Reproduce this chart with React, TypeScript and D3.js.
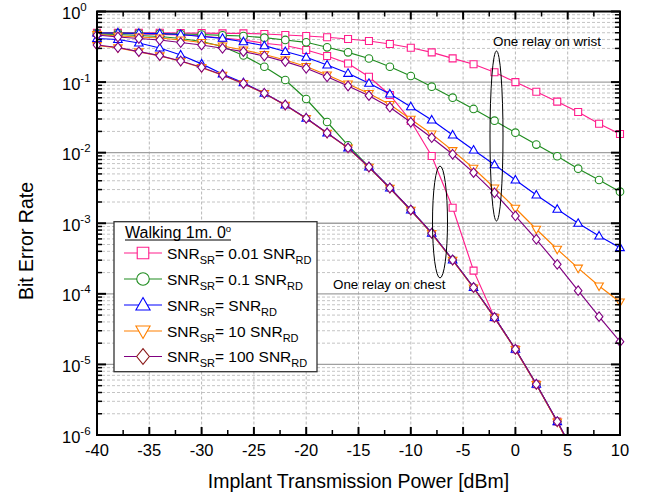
import React from 'react';
import * as d3 from 'd3';

const power = [-40, -38, -36, -34, -32, -30, -28, -26, -24, -22, -20, -18, -16, -14, -12, -10, -8, -6, -4, -2, 0, 2, 4, 6, 8, 10];
const powerChest = [-40, -38, -36, -34, -32, -30, -28, -26, -24, -22, -20, -18, -16, -14, -12, -10, -8, -6, -4, -2, 0, 2, 4, 6];

// relay on wrist
const wrist001 = [0.50, 0.50, 0.50, 0.50, 0.495, 0.495, 0.49, 0.49, 0.48, 0.465, 0.45, 0.431, 0.408, 0.382, 0.346, 0.307, 0.264, 0.217, 0.179, 0.138, 0.100, 0.0731, 0.0528, 0.0377, 0.0257, 0.0184];
const wrist01 = [0.496, 0.496, 0.491, 0.486, 0.480, 0.472, 0.460, 0.450, 0.426, 0.395, 0.366, 0.311, 0.264, 0.216, 0.165, 0.122, 0.0861, 0.0601, 0.0416, 0.0284, 0.0192, 0.0130, 0.00889, 0.00593, 0.00410, 0.00280];
const wrist1 = [0.496, 0.496, 0.491, 0.485, 0.472, 0.442, 0.417, 0.373, 0.328, 0.271, 0.225, 0.175, 0.133, 0.0962, 0.0678, 0.0448, 0.0291, 0.0178, 0.0109, 0.00676, 0.00410, 0.00252, 0.00158, 0.00100, 0.000661, 0.000451];
const wrist10 = [0.472, 0.450, 0.435, 0.421, 0.395, 0.364, 0.325, 0.285, 0.246, 0.206, 0.166, 0.126, 0.0940, 0.0690, 0.0482, 0.0297, 0.0184, 0.0107, 0.00601, 0.00316, 0.00163, 0.000822, 0.000428, 0.000231, 0.000129, 0.0000767];
const wrist100 = [0.465, 0.435, 0.415, 0.395, 0.364, 0.335, 0.301, 0.270, 0.234, 0.195, 0.157, 0.119, 0.0881, 0.0642, 0.0441, 0.0270, 0.0163, 0.00949, 0.00521, 0.00270, 0.00127, 0.000593, 0.000262, 0.000111, 0.0000475, 0.0000210];

// relay on chest
const chest001 = [0.496, 0.491, 0.483, 0.475, 0.465, 0.450, 0.421, 0.395, 0.355, 0.330, 0.285, 0.234, 0.183, 0.119, 0.0657, 0.0281, 0.00898, 0.00166, 0.000213, 0.0000463, 0.0000164, 0.00000524, 0.00000155, 0.00000043];
const chest01 = [0.480, 0.472, 0.457, 0.442, 0.415, 0.376, 0.319, 0.238, 0.165, 0.107, 0.0576, 0.0272, 0.0127, 0.00627, 0.00316, 0.00154, 0.000722, 0.000302, 0.000123, 0.0000463, 0.0000164, 0.00000524, 0.00000155, 0.00000043];
const chest1 = [0.415, 0.401, 0.358, 0.304, 0.242, 0.181, 0.130, 0.098, 0.0694, 0.0474, 0.0307, 0.0190, 0.0117, 0.00627, 0.00316, 0.00154, 0.000722, 0.000302, 0.000123, 0.0000463, 0.0000164, 0.00000524, 0.00000155, 0.00000043];
const chest10 = [0.330, 0.305, 0.268, 0.235, 0.197, 0.160, 0.125, 0.0950, 0.0690, 0.0470, 0.0305, 0.0188, 0.0116, 0.00620, 0.00312, 0.00152, 0.000712, 0.000298, 0.000121, 0.0000458, 0.0000162, 0.00000518, 0.00000152, 0.00000042];
const chest100 = [0.335, 0.309, 0.270, 0.237, 0.199, 0.162, 0.126, 0.0955, 0.0694, 0.0474, 0.0307, 0.0190, 0.0117, 0.00627, 0.00316, 0.00154, 0.000722, 0.000302, 0.000123, 0.0000463, 0.0000164, 0.00000524, 0.00000155, 0.00000043];

const legendLabels = ['= 0.01 SNR', '= 0.1 SNR', '= SNR', '= 10 SNR', '= 100 SNR'];
const xTicks = [-40, -35, -30, -25, -20, -15, -10, -5, 0, 5, 10];
const yExponents = [0, -1, -2, -3, -4, -5, -6];

const colors = ['#ff1e8c', '#1f8c1f', '#0000ff', '#ff8000', '#800080'];
const markerColors = ['#ff1e8c', '#1f8c1f', '#0000ff', '#ff8000', '#800080'];
const legendMarkerColors = ['#ff1e8c', '#1f8c1f', '#0000ff', '#ff8000', '#8b1a1a'];
const markerTypes = ['square', 'circle', 'triUp', 'triDown', 'diamond'];

const FONT = 'Arial, "Liberation Sans", sans-serif';

function Marker({ type, cx, cy, color, k = 1 }: { type: string; cx: number; cy: number; color: string; k?: number }) {
  const sw = 1.1;
  if (type === 'circle') return <circle cx={cx} cy={cy} r={3.8 * k} fill="#fff" stroke={color} strokeWidth={sw} />;
  let d = '';
  if (type === 'square') {
    const s = 3.5 * k;
    d = `M${cx - s},${cy - s}h${2 * s}v${2 * s}h${-2 * s}Z`;
  } else if (type === 'triUp') {
    const s = 4.3 * k;
    d = `M${cx},${cy - s * 1.05}L${cx + s},${cy + s * 0.7}L${cx - s},${cy + s * 0.7}Z`;
  } else if (type === 'triDown') {
    const s = 4.3 * k;
    d = `M${cx},${cy + s * 1.05}L${cx + s},${cy - s * 0.7}L${cx - s},${cy - s * 0.7}Z`;
  } else if (type === 'diamond') {
    const s = 4.8 * k;
    d = `M${cx},${cy - s}L${cx + s * 0.8},${cy}L${cx},${cy + s}L${cx - s * 0.8},${cy}Z`;
  }
  return <path d={d} fill="#fff" stroke={color} strokeWidth={sw} />;
}

export default function App() {
  const L = 97, R = 620, T = 11.5, B = 435;
  const x = d3.scaleLinear().domain([-40, 10]).range([L, R]);
  const y = d3.scaleLog().domain([1e-6, 1]).range([B, T]);

  const wrist = [wrist001, wrist01, wrist1, wrist10, wrist100];
  const chest = [chest001, chest01, chest1, chest10, chest100];

  const line = d3.line<[number, number]>().x(d => x(d[0])).y(d => y(d[1]));

  const minorY: number[] = [];
  for (let e = -6; e < 0; e++) for (let k = 2; k <= 9; k++) minorY.push(k * Math.pow(10, e));
  const majorY = yExponents.map(e => Math.pow(10, e));
  const xMinor = d3.range(-37.5, 10, 5);
  const xGrid = xTicks.slice(1, -1);

  const series: { xs: number[]; ys: number[]; i: number }[] = [];
  for (let i = 0; i < 5; i++) {
    series.push({ xs: power, ys: wrist[i], i });
    series.push({ xs: powerChest, ys: chest[i], i });
  }

  const legendRows = [253, 279, 305, 331, 356.5];

  return (
    <svg width={649} height={494} style={{ position: 'absolute', left: 0, top: 0, background: '#fff' }} fontFamily={FONT}>
      <defs>
        <clipPath id="plotClip">
          <rect x={L - 12} y={T - 12} width={R - L + 24} height={B - T + 12} />
        </clipPath>
      </defs>
      <rect x={0} y={0} width={649} height={494} fill="#fff" />
      {/* minor grid */}
      {minorY.map((v, i) => (
        <line key={'mg' + i} x1={L} x2={R} y1={y(v)} y2={y(v)} stroke="#c4c4c4" strokeWidth={1} strokeDasharray="3,2" />
      ))}
      {xGrid.map(v => (
        <line key={'vg' + v} x1={x(v)} x2={x(v)} y1={T} y2={B} stroke="#b8b8b8" strokeWidth={1} strokeDasharray="3,2" />
      ))}
      {majorY.slice(1, -1).map((v, i) => (
        <line key={'Mg' + i} x1={L} x2={R} y1={y(v)} y2={y(v)} stroke="#a0a0a0" strokeWidth={1.3} />
      ))}

      {/* series */}
      <g clipPath="url(#plotClip)">
        {series.map((s, j) => (
          <g key={'s' + j}>
            <path d={line(s.xs.map((v, k) => [v, s.ys[k]] as [number, number])) || ''} fill="none" stroke={colors[s.i]} strokeWidth={1.15} />
            {s.xs.map((v, k) =>
              s.ys[k] >= 1e-6 ? (
                <Marker key={k} type={markerTypes[s.i]} cx={x(v)} cy={y(s.ys[k])} color={markerColors[s.i]} />
              ) : null
            )}
          </g>
        ))}
      </g>

      {/* ellipses and annotations */}
      <ellipse cx={496.5} cy={136} rx={6.5} ry={85} fill="none" stroke="#000" strokeWidth={1} />
      <ellipse cx={440} cy={222} rx={7.5} ry={56} fill="none" stroke="#000" strokeWidth={1} />
      <text x={493} y={46} fontSize={13.4} fill="#000">One relay on wrist</text>
      <text x={333} y={289} fontSize={13.4} fill="#000">One relay on chest</text>

      {/* axes frame */}
      <rect x={L} y={T} width={R - L} height={B - T} fill="none" stroke="#000" strokeWidth={2} />

      {/* y ticks */}
      {minorY.map((v, i) => (
        <g key={'mt' + i}>
          <line x1={L} x2={L + 5} y1={y(v)} y2={y(v)} stroke="#000" strokeWidth={1.5} />
          <line x1={R} x2={R - 5} y1={y(v)} y2={y(v)} stroke="#000" strokeWidth={1.5} />
        </g>
      ))}
      {majorY.map((v, i) => (
        <g key={'Mt' + i}>
          <line x1={L} x2={L + 9} y1={y(v)} y2={y(v)} stroke="#000" strokeWidth={2} />
          <line x1={R} x2={R - 9} y1={y(v)} y2={y(v)} stroke="#000" strokeWidth={2} />
        </g>
      ))}
      {/* x ticks */}
      {xTicks.map(v => (
        <g key={'xt' + v}>
          <line x1={x(v)} x2={x(v)} y1={B} y2={B - 8} stroke="#000" strokeWidth={2} />
          <line x1={x(v)} x2={x(v)} y1={T} y2={T + 8} stroke="#000" strokeWidth={2} />
        </g>
      ))}
      {xMinor.map(v => (
        <g key={'xm' + v}>
          <line x1={x(v)} x2={x(v)} y1={B} y2={B - 5} stroke="#000" strokeWidth={1.5} />
          <line x1={x(v)} x2={x(v)} y1={T} y2={T + 5} stroke="#000" strokeWidth={1.5} />
        </g>
      ))}

      {/* tick labels */}
      {xTicks.map(v => (
        <text key={'xl' + v} x={x(v)} y={456} fontSize={16.5} textAnchor="middle" fill="#000">{v}</text>
      ))}
      {yExponents.map(e => (
        <text key={'yl' + e} x={62} y={y(Math.pow(10, e)) + 7.5} fontSize={16.5} fill="#000">
          10<tspan dy={-8} fontSize={11.5}>{e}</tspan>
        </text>
      ))}

      {/* axis titles */}
      <text x={(L + R) / 2} y={488} fontSize={19.5} textAnchor="middle" fill="#000">Implant Transmission Power [dBm]</text>
      <text transform={`translate(33,${241}) rotate(-90)`} fontSize={19.5} textAnchor="middle" fill="#000">Bit Error Rate</text>

      {/* legend */}
      <rect x={114} y={221.7} width={203} height={150} fill="#fff" stroke="#333" strokeWidth={1.3} />
      <text x={125} y={237.5} fontSize={16} fill="#000">
        Walking 1m. 0<tspan dy={-6} fontSize={9.5}>o</tspan>
      </text>
      <line x1={125} x2={231} y1={240} y2={240} stroke="#000" strokeWidth={1} />
      {legendLabels.map((lab, i) => (
        <g key={'lg' + i}>
          <line x1={124} x2={162} y1={legendRows[i]} y2={legendRows[i]} stroke={colors[i]} strokeWidth={1.1} />
          <Marker type={markerTypes[i]} cx={143} cy={legendRows[i]} color={legendMarkerColors[i]} k={1.65} />
          <text x={167} y={legendRows[i] + 5.5} fontSize={15.5} fill="#000">
            SNR<tspan dy={5} fontSize={11}>SR</tspan>
            <tspan dy={-5}>{lab}</tspan>
            <tspan dy={5} fontSize={11}>RD</tspan>
          </text>
        </g>
      ))}
    </svg>
  );
}
